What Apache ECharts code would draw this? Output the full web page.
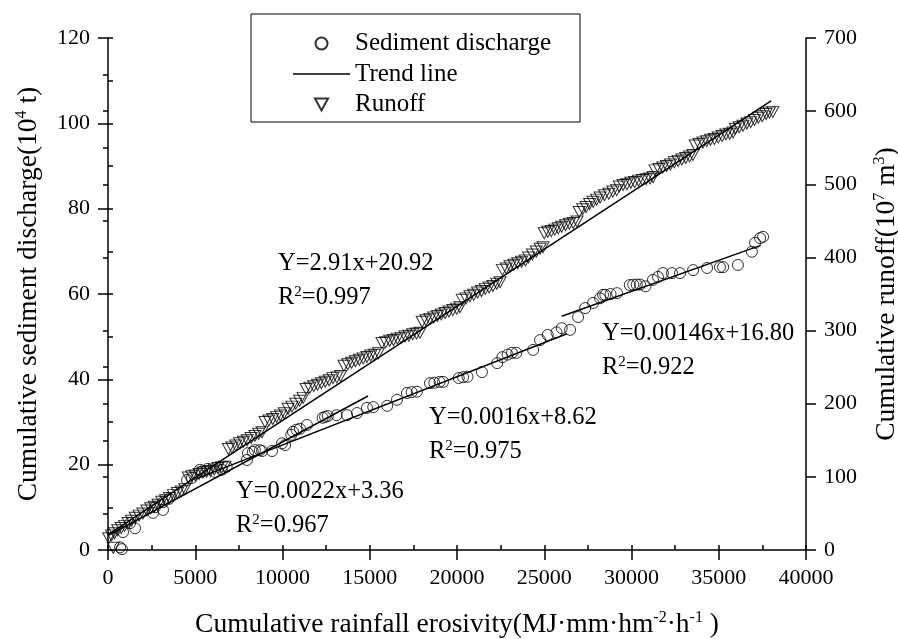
<!DOCTYPE html>
<html>
<head>
<meta charset="utf-8">
<script src="https://cdn.jsdelivr.net/npm/echarts@6/dist/echarts.min.js"></script>
<style>
  html, body { margin: 0; padding: 0; background: #fff; }
  #chart { width: 898px; height: 639px; }
</style>
</head>
<body>
<div id="chart"></div>
<script>
// 累积泥沙 (left axis, 10^4 t) vs cumulative rainfall erosivity
var sedimentData = [
  [690, 0.6], [800, 0.2], [860, 4.2], [1260, 6.3], [1550, 5.1], [2580, 8.7], [2690, 10], [3150, 9.4],
  [3150, 11.2], [3500, 12], [4530, 16.4], [4810, 16.9], [5270, 18.8], [5390, 18.4], [5700, 19], [6130, 18.3],
  [6530, 18.8], [6800, 19.5], [7960, 21.1], [8020, 22.7], [8300, 23], [8420, 23.4], [8700, 23.4], [8830, 23.2],
  [9400, 23.2], [9970, 25], [10150, 24.6], [10500, 27], [10600, 27.7], [10800, 28.2], [11000, 28.4], [11400, 29.3],
  [12300, 31], [12440, 31.2], [12600, 31.4], [13100, 31.6], [13700, 31.6], [14270, 32.1], [14840, 33.3], [15200, 33.5],
  [16000, 33.8], [16560, 35.2], [17130, 36.8], [17400, 37], [17700, 37.1], [18450, 39.1], [18700, 39.2], [19000, 39.4],
  [19200, 39.4], [20100, 40.3], [20350, 40.5], [20600, 40.6], [21430, 41.7], [22300, 43.8], [22600, 45.2], [22900, 45.8],
  [23150, 46.2], [23400, 46.2], [24360, 46.9], [24760, 49.2], [25200, 50.4], [25700, 51], [26000, 52], [26480, 51.6],
  [26940, 54.6], [27350, 56.7], [27800, 57.9], [28200, 59], [28370, 59.8], [28500, 59.8], [28800, 60], [29170, 60.2],
  [29900, 62.1], [30100, 62.2], [30300, 62.2], [30490, 62.2], [30800, 61.8], [31230, 63.3], [31520, 64], [31800, 64.9],
  [32320, 64.9], [32780, 64.9], [33530, 65.6], [34330, 66.1], [35070, 66.3], [35250, 66.3], [36100, 66.8], [36900, 69.9],
  [37080, 72], [37370, 73.1], [37540, 73.4]
];

// 累积径流 (right axis, 10^7 m3)
var runoffData = [
  [300, 3], [40, 16], [200, 20], [380, 23], [560, 27], [760, 30], [950, 33],
  [1150, 37], [1350, 40], [1560, 44], [1780, 47], [2000, 50], [2230, 54],
  [2450, 57], [2650, 59], [2870, 62], [3080, 66], [3300, 68], [3520, 71], [3750, 75], [3980, 78], [4200, 80], [4400, 83],
  [4600, 99], [4800, 101], [5000, 102], [5220, 104], [5440, 106], [5650, 107], [5870, 108], [6090, 110], [6300, 112], [6520, 113], [6700, 114],
  [6900, 138], [7100, 140], [7320, 143], [7540, 146], [7760, 148], [7980, 150], [8200, 153], [8420, 156], [8640, 159], [8830, 161],
  [9000, 175], [9220, 177], [9440, 179], [9660, 182], [9880, 184], [10100, 187],
  [10320, 193], [10540, 196], [10760, 200], [10980, 204], [11180, 208],
  [11350, 220], [11570, 222], [11790, 224], [12010, 226], [12230, 228], [12450, 230], [12670, 232], [12890, 235], [13110, 236], [13330, 238],
  [13520, 252], [13740, 254], [13960, 256], [14180, 258], [14400, 260], [14620, 262], [14840, 264], [15060, 266], [15280, 267], [15500, 269],
  [15700, 283], [15920, 284], [16140, 286], [16360, 287], [16580, 289], [16800, 290], [17020, 292], [17240, 293], [17460, 295], [17680, 296], [17880, 297],
  [18000, 312], [18220, 314], [18440, 316], [18660, 318], [18880, 320], [19100, 322], [19320, 324], [19540, 326], [19760, 328], [19980, 330], [20170, 332],
  [20300, 342], [20520, 344], [20740, 347], [20960, 349], [21180, 352], [21400, 354], [21620, 357], [21840, 359], [22060, 361], [22280, 364], [22470, 366],
  [22600, 383], [22820, 385], [23040, 388], [23260, 390], [23480, 392], [23700, 394], [23920, 396],
  [24100, 400], [24320, 404], [24540, 408], [24760, 412], [24930, 414],
  [25000, 433], [25200, 435], [25400, 436], [25600, 438], [25800, 440], [26000, 442], [26220, 444], [26440, 446], [26660, 447], [26880, 449],
  [27000, 462], [27200, 466], [27400, 469], [27600, 473], [27800, 476], [28000, 479], [28200, 482], [28450, 485], [28700, 487], [28930, 490], [29150, 492],
  [29300, 497], [29520, 499], [29740, 500], [29960, 502], [30180, 503], [30400, 505], [30620, 506], [30840, 507], [31060, 508], [31240, 510],
  [31350, 519], [31570, 521], [31790, 523], [32010, 525], [32230, 527], [32450, 530], [32670, 532], [32890, 534], [33110, 536], [33330, 538], [33520, 540],
  [33650, 553], [33870, 555], [34090, 557], [34310, 559], [34530, 561], [34750, 562], [34970, 564], [35190, 566], [35410, 568], [35630, 569], [35820, 571],
  [35950, 576], [36170, 578], [36390, 580], [36610, 583], [36830, 585], [37050, 588], [37270, 591], [37490, 593], [37710, 596], [37900, 598], [38100, 599]
];

// 趋势线端点
var trendRunoff = [[0, 20.92], [38000, 614]];
var trendSed1 = [[0, 3.36], [14900, 36.1]];
var trendSed2 = [[5000, 16.6], [26300, 50.7]];
var trendSed3 = [[26000, 54.8], [37400, 71.4]];

// 方程标注
var equations = [
  { eq: 'Y=2.91x+20.92', r2: '0.997', x: 278, y: 264 },
  { eq: 'Y=0.0022x+3.36', r2: '0.967', x: 236, y: 492 },
  { eq: 'Y=0.0016x+8.62', r2: '0.975', x: 429, y: 418 },
  { eq: 'Y=0.00146x+16.80', r2: '0.922', x: 602, y: 334 }
];

var FONT = 'Liberation Serif';
var EQ_SIZE = 24.5;
var chart = echarts.init(document.getElementById('chart'));

var graphics = [];
equations.forEach(function (e) {
  graphics.push({
    type: 'text', left: e.x, top: e.y - 13,
    style: { text: e.eq, font: EQ_SIZE + 'px "' + FONT + '"', fill: '#000' }
  });
  graphics.push({
    type: 'text', left: e.x, top: e.y + 21,
    style: {
      text: '{a|R}{s|2}{a|=' + e.r2 + '}', fill: '#000', font: EQ_SIZE + 'px "' + FONT + '"',
      rich: {
        a: { fontSize: EQ_SIZE, fontFamily: FONT, color: '#000' },
        s: { fontSize: 15, fontFamily: FONT, color: '#000', verticalAlign: 'top' }
      }
    }
  });
});

var nameRich = {
  a: { fontSize: 27.5, fontFamily: FONT, color: '#000', lineHeight: 30 },
  s: { fontSize: 16, fontFamily: FONT, color: '#000', verticalAlign: 'top' }
};
var labelStyle = { fontSize: 22, fontFamily: FONT, color: '#000' };
var lineStyle = { color: '#000', width: 1.5 };

var option = {
  backgroundColor: '#fff',
  animation: false,
  grid: { left: 108, right: 92, top: 38, bottom: 89, outerBoundsMode: 'none', containLabel: false },
  legend: {
    data: [
      { name: 'Sediment discharge' },
      { name: 'Trend line', icon: 'path://M0,0 L57,0 L57,1.6 L0,1.6 Z' },
      { name: 'Runoff', icon: 'path://M0,0 L12,0 L6,11 Z' }
    ],
    orient: 'vertical',
    left: 251, top: 14,
    borderColor: '#000', borderWidth: 1, borderRadius: 0,
    padding: [17, 29, 5, 42],
    itemWidth: 57, itemHeight: 12, itemGap: 5.5,
    symbolKeepAspect: true, symbolRotate: 0,
    textStyle: { fontSize: 25, fontFamily: FONT, color: '#000' }
  },
  xAxis: [{
    type: 'value', min: 0, max: 40000, interval: 5000,
    name: '{a|Cumulative rainfall erosivity(MJ·mm·hm}{s|-2}{a|·h}{s|-1}{a| )}',
    nameLocation: 'middle', nameGap: 60,
    nameTextStyle: { rich: nameRich },
    axisLine: { onZero: false, lineStyle: lineStyle },
    axisTick: { length: 10, lineStyle: lineStyle },
    axisLabel: Object.assign({ margin: 17, formatter: function (v) { return String(v); } }, labelStyle),
    splitLine: { show: false }
  }, {
    // 小刻度 (朝内)
    type: 'value', min: 0, max: 40000, interval: 2500, position: 'bottom',
    axisLine: { show: false }, axisLabel: { show: false },
    axisTick: { inside: true, length: 5, lineStyle: lineStyle },
    splitLine: { show: false }
  }],
  yAxis: [{
    type: 'value', min: 0, max: 120, interval: 20, position: 'left',
    name: '{a|Cumulative sediment discharge(10}{s|4}{a| t)}',
    nameLocation: 'middle', nameGap: 64,
    nameTextStyle: { rich: nameRich },
    axisLine: { show: true, onZero: false, lineStyle: lineStyle },
    axisTick: { show: true, length: 10, lineStyle: lineStyle },
    axisLabel: Object.assign({ margin: 18 }, labelStyle),
    splitLine: { show: false }
  }, {
    type: 'value', min: 0, max: 700, interval: 100, position: 'right',
    name: '{a|Cumulative runoff(10}{s|7}{a| m}{s|3}{a|)}',
    nameLocation: 'middle', nameGap: 66,
    nameTextStyle: { rich: nameRich },
    axisLine: { show: true, onZero: false, lineStyle: lineStyle },
    axisTick: { show: true, length: 10, lineStyle: lineStyle },
    axisLabel: Object.assign({ margin: 18 }, labelStyle),
    splitLine: { show: false }
  }, {
    type: 'value', min: 0, max: 120, interval: 10, position: 'left',
    axisLine: { show: false }, axisLabel: { show: false },
    axisTick: { show: true, inside: true, length: 5, lineStyle: lineStyle },
    splitLine: { show: false }
  }, {
    type: 'value', min: 0, max: 700, interval: 50, position: 'right',
    axisLine: { show: false }, axisLabel: { show: false },
    axisTick: { show: true, inside: true, length: 5, lineStyle: lineStyle },
    splitLine: { show: false }
  }],
  graphic: graphics,
  series: [{
    name: 'Sediment discharge', type: 'scatter', yAxisIndex: 0,
    symbol: 'circle', symbolSize: 11,
    itemStyle: { color: 'rgba(0,0,0,0)', borderColor: '#000', borderWidth: 1 },
    data: sedimentData
  }, {
    name: 'Runoff', type: 'scatter', yAxisIndex: 1,
    symbol: 'triangle', symbolSize: [12, 11], symbolRotate: 180,
    itemStyle: { color: 'rgba(0,0,0,0)', borderColor: '#000', borderWidth: 1 },
    data: runoffData
  }, {
    name: 'Trend line', type: 'line', yAxisIndex: 1, showSymbol: false, symbol: 'none',
    lineStyle: lineStyle, itemStyle: { color: '#000' }, data: trendRunoff
  }, {
    name: 'Trend line', type: 'line', yAxisIndex: 0, showSymbol: false, symbol: 'none',
    lineStyle: lineStyle, itemStyle: { color: '#000' }, data: trendSed1
  }, {
    name: 'Trend line', type: 'line', yAxisIndex: 0, showSymbol: false, symbol: 'none',
    lineStyle: lineStyle, itemStyle: { color: '#000' }, data: trendSed2
  }, {
    name: 'Trend line', type: 'line', yAxisIndex: 0, showSymbol: false, symbol: 'none',
    lineStyle: lineStyle, itemStyle: { color: '#000' }, data: trendSed3
  }]
};

chart.setOption(option);
</script>
</body>
</html>
